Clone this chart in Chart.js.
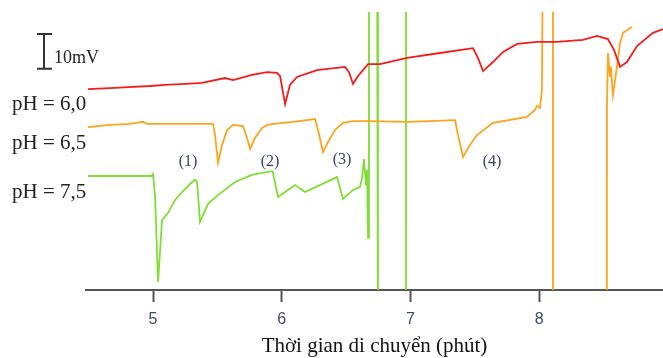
<!DOCTYPE html>
<html lang="vi">
<head>
    <meta charset="UTF-8">
    <title>Thời gian di chuyển theo pH</title>
    <style>
        html, body { margin: 0; padding: 0; background: #fff; }
        .chart-container { width: 663px; height: 358px; }
    </style>
</head>
<body>
    <div class="chart-container">
        <canvas id="myChart" width="663" height="358"></canvas>
    </div>

    <script src="https://cdn.jsdelivr.net/npm/chart.js"></script>
    <script>
        // thoi gian (phut) va tin hieu (mV) doc tu hinh; 100 / -20 = ra ngoai khung
        var redTime = [4.495, 4.666, 4.806, 4.977, 5.093, 5.249, 5.381, 5.559, 5.622, 5.769, 5.886, 5.963, 5.987, 6.026, 6.064, 6.119, 6.274, 6.492, 6.523, 6.554, 6.593, 6.671, 6.764, 6.974, 7.230, 7.486, 7.525, 7.564, 7.642, 7.720, 7.829, 7.984, 8.139, 8.341, 8.450, 8.535, 8.582, 8.629, 8.683, 8.761, 8.885, 8.963];
        var redMv = [57.8, 58.1, 58.4, 58.7, 59.0, 59.3, 59.6, 61.0, 60.4, 61.9, 62.7, 62.5, 61.6, 53.5, 59.0, 61.3, 63.3, 64.2, 62.7, 59.3, 61.6, 65.0, 65.0, 66.8, 68.2, 69.6, 66.8, 63.0, 65.6, 68.5, 70.8, 71.4, 71.4, 72.0, 73.1, 72.2, 69.1, 64.2, 65.6, 70.2, 74.0, 75.1];

        var orangeTime = [4.495, 4.666, 4.821, 4.922, 4.953, 5.132, 5.326, 5.466, 5.482, 5.505, 5.536, 5.575, 5.622, 5.699, 5.730, 5.754, 5.793, 5.847, 5.886, 6.002, 6.088, 6.259, 6.282, 6.321, 6.360, 6.414, 6.476, 6.554, 6.663, 6.974, 7.152, 7.347, 7.370, 7.409, 7.463, 7.517, 7.642, 7.906, 7.968, 7.984, 8.007, 8.022, 8.030, 8.108, 8.108, 8.527, 8.527, 8.535, 8.551, 8.558, 8.574, 8.605, 8.629, 8.652, 8.722];
        var orangeMv = [46.9, 47.5, 47.8, 48.4, 47.8, 47.8, 47.8, 47.8, 44.6, 36.6, 41.7, 46.0, 47.5, 47.2, 43.8, 40.6, 43.8, 46.6, 47.5, 48.1, 48.4, 49.2, 46.0, 39.7, 42.6, 46.0, 48.1, 48.6, 48.6, 48.4, 48.6, 48.9, 44.6, 38.3, 41.7, 44.6, 48.1, 49.8, 51.8, 53.0, 52.4, 57.6, 100, 100, -20, -20, 51.8, 68.2, 61.3, 64.2, 56.1, 64.2, 71.1, 74.0, 75.7];

        var greenTime = [4.495, 4.744, 4.992, 5.000, 5.016, 5.039, 5.070, 5.117, 5.171, 5.225, 5.287, 5.326, 5.342, 5.365, 5.427, 5.505, 5.637, 5.769, 5.847, 5.925, 5.932, 5.971, 6.049, 6.103, 6.181, 6.430, 6.476, 6.554, 6.608, 6.624, 6.639, 6.655, 6.663, 6.671, 6.678, 6.741, 6.748, 6.966, 6.966];
        var greenMv = [32.8, 32.8, 32.8, 33.4, 26.8, 2.3, 20.1, 22.2, 25.9, 28.2, 30.5, 31.7, 31.1, 19.6, 24.8, 27.3, 31.1, 33.1, 33.7, 34.2, 33.7, 26.8, 28.8, 30.2, 28.2, 32.5, 26.2, 28.8, 29.6, 32.2, 37.7, 30.2, 34.5, 15.0, 100, 100, -20, -20, 100];

        var xTicks = [5, 6, 7, 8];

        var seriesLabels = ['pH = 6,0', 'pH = 6,5', 'pH = 7,5'];
        var seriesLabelY = [110, 149, 198];

        var peakLabels = ['(1)', '(2)', '(3)', '(4)'];
        var peakTime = [5.272, 5.909, 6.469, 7.634];
        var peakMv = [36.8, 36.8, 37.4, 36.8];

        var scaleBarMv = [63.7, 73.7];

        function toPoints(t, v) {
            return t.map(function (x, i) {
                return { x: x, y: v[i] };
            });
        }

        var extras = {
            id: 'extras',
            afterDraw: function (chart) {
                var ctx = chart.ctx;
                var xs = chart.scales.x;
                var ys = chart.scales.y;
                ctx.save();

                // nhan pH ben trai
                ctx.fillStyle = '#222';
                ctx.font = '21px "Liberation Serif", "Times New Roman", serif';
                ctx.textAlign = 'left';
                ctx.textBaseline = 'alphabetic';
                seriesLabels.forEach(function (s, i) {
                    ctx.fillText(s, 12, seriesLabelY[i]);
                });

                // thanh ty le 10 mV
                var yTop = ys.getPixelForValue(scaleBarMv[1]);
                var yBot = ys.getPixelForValue(scaleBarMv[0]);
                ctx.strokeStyle = '#333';
                ctx.lineWidth = 2;
                ctx.beginPath();
                ctx.moveTo(44, yTop); ctx.lineTo(44, yBot);
                ctx.moveTo(37, yTop); ctx.lineTo(52, yTop);
                ctx.moveTo(37, yBot); ctx.lineTo(52, yBot);
                ctx.stroke();
                ctx.font = '18px "Liberation Serif", "Times New Roman", serif';
                ctx.fillText('10mV', 54, 63);

                // so thu tu dinh
                ctx.fillStyle = '#3a4560';
                ctx.font = '16px "Liberation Serif", "Times New Roman", serif';
                ctx.textAlign = 'center';
                ctx.textBaseline = 'middle';
                peakLabels.forEach(function (s, i) {
                    ctx.fillText(s, xs.getPixelForValue(peakTime[i]), ys.getPixelForValue(peakMv[i]));
                });

                ctx.restore();
            }
        };

        var ctx = document.getElementById('myChart').getContext('2d');
        var myChart = new Chart(ctx, {
            type: 'line',
            data: {
                datasets: [
                    { label: seriesLabels[0], data: toPoints(redTime, redMv), borderColor: '#f41c1c' },
                    { label: seriesLabels[1], data: toPoints(orangeTime, orangeMv), borderColor: '#fca41c' },
                    { label: seriesLabels[2], data: toPoints(greenTime, greenMv), borderColor: '#7ede34' }
                ]
            },
            options: {
                responsive: false,
                animation: false,
                layout: { padding: { left: 86, top: 12, right: 0, bottom: 0 } },
                elements: {
                    line: { borderWidth: 1.8, tension: 0, fill: false },
                    point: { radius: 0, hoverRadius: 0 }
                },
                plugins: {
                    legend: { display: false },
                    tooltip: { enabled: false }
                },
                scales: {
                    x: {
                        type: 'linear',
                        min: 4.479,
                        max: 8.963,
                        afterBuildTicks: function (axis) {
                            axis.ticks = xTicks.map(function (v) { return { value: v }; });
                        },
                        grid: {
                            drawOnChartArea: false,
                            tickLength: 12,
                            tickWidth: 2,
                            tickColor: '#555'
                        },
                        border: { color: '#555', width: 2 },
                        ticks: {
                            padding: 8,
                            color: '#3b4a66',
                            font: { family: '"Liberation Sans", Arial, sans-serif', size: 16 },
                            maxRotation: 0,
                            callback: function (v) { return v; }
                        },
                        title: {
                            display: true,
                            text: 'Thời gian di chuyển (phút)',
                            color: '#111',
                            font: { family: '"Liberation Serif", "Times New Roman", serif', size: 21 },
                            padding: { top: -3.4, bottom: -1 }
                        }
                    },
                    y: {
                        display: false,
                        min: 0,
                        max: 80
                    }
                }
            },
            plugins: [extras]
        });
    </script>
</body>
</html>
